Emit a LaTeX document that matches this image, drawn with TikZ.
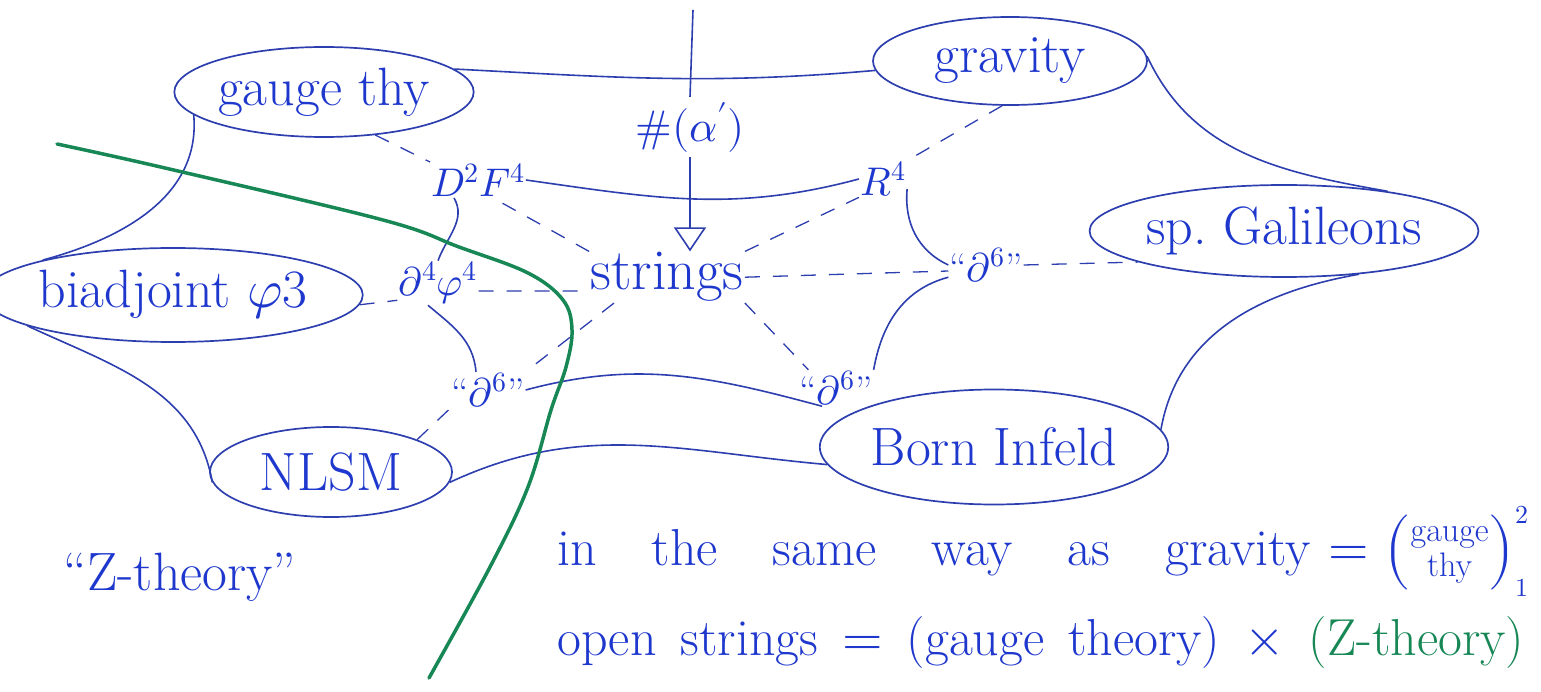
\documentclass[tikz,border=0pt]{standalone}
\usepackage{unicode-math}
\usetikzlibrary{shapes.geometric,arrows.meta}

\definecolor{ink}{RGB}{30,55,205}
\definecolor{pen}{RGB}{45,62,175}
\definecolor{marker}{RGB}{22,135,85}

\tikzset{
  theory/.style={ellipse,draw=pen,line width=1.7pt,text=ink,inner sep=0pt,
    font=\fontsize{54}{58}\selectfont},
  term/.style={text=ink,inner sep=1pt,font=\fontsize{40}{44}\selectfont},
  link/.style={pen,line width=1.6pt},
  dashlink/.style={pen,line width=1.3pt,dash pattern=on 15pt off 13pt},
  zline/.style={marker,line width=3.5pt,line cap=round},
  note/.style={text=ink,inner sep=0pt,anchor=base west,
    font=\fontsize{52}{56}\selectfont},
}

\begin{document}
\begin{tikzpicture}[x=1pt,y=1pt]
\useasboundingbox (0,0) rectangle (1541,-692);
% theories
\node[theory,minimum width=290pt,minimum height=90pt] (gauge) at (324,-92) {gauge thy};
\node[theory,minimum width=274pt,minimum height=88pt] (gravity) at (1010,-61) {gravity};
\node[theory,minimum width=327pt,minimum height=94pt] (biadj) at (173,-295) {biadjoint $\varphi$3};
\node[theory,minimum width=347pt,minimum height=92pt] (galileon) at (1284,-231) {sp.\ Galileons};
\node[theory,minimum width=242pt,minimum height=90pt] (nlsm) at (331,-472) {NLSM};
\node[theory,minimum width=345pt,minimum height=115pt] (born) at (994,-447) {Born Infeld};
% corrections
\node[term] (dfour) at (478,-180) {$D^2F^4$};
\node[term] (rfour) at (883,-179) {$R^4$};
\node[term] (dphi) at (438,-283) {$\partial^4\varphi^4$};
\node[term] (dsixl) at (488,-390) {``$\partial^6$''};
\node[term] (dsixr) at (986,-265) {``$\partial^6$''};
\node[term] (dsixb) at (836,-388) {``$\partial^6$''};
\node[term,anchor=base,font=\fontsize{58}{62}\selectfont] (strings) at (667,-290) {strings};
\node[term,inner sep=5pt,font=\fontsize{44}{48}\selectfont] (alpha) at (690,-127) {$\#(\alpha')$};
\coordinate (top) at (693,-10);
% alpha' arrow
\draw[link] (top) -- (alpha.north);
\draw[link,-{Triangle[open,length=24pt,width=32pt,line width=1.6pt]}] (alpha.south) -- (alpha.south |- strings.north);
% outer ring
\draw[link] (gauge.10) to[out=-3,in=185] (gravity.184);
\draw[link] (gravity.2) to[out=-65,in=170] (galileon.21);
\draw[link] (galileon.-30) to[out=190,in=80] (born.6);
\draw[link] (born.186) to[out=175,in=25] (nlsm.-5);
\draw[link] (nlsm.185) to[out=100,in=-25] (biadj.192);
\draw[link] (biadj.165) to[out=15,in=-85] (gauge.190);
% inner ring
\draw[link] (dfour.east) to[out=-8,in=195] (rfour.west);
\draw[link] ([xshift=-24pt]dfour.south) to[out=-60,in=70] (dphi.north);
\draw[link] ([xshift=-10pt]dphi.south) to[out=-40,in=95] ([xshift=-12pt]dsixl.north);
\draw[link] (dsixl.east) to[out=15,in=165] ([xshift=-14pt]dsixb.south);
\draw[link] (dsixb.north east) to[out=80,in=195] ([yshift=6pt]dsixr.south west);
\draw[link] ([yshift=-10pt]rfour.east) to[out=-95,in=155] (dsixr.west);
% dashed
\draw[dashlink] (gauge.-40) -- (dfour.north west);
\draw[dashlink] (gravity.-100) -- (rfour.north east);
\draw[dashlink] (biadj.-3) -- ([yshift=5pt]dphi.south west);
\draw[dashlink] ([yshift=-8pt]dphi.east) -- (strings.190);
\draw[dashlink] (strings.north west) -- ([xshift=15pt]dfour.south);
\draw[dashlink] (strings.north east) -- (rfour.south west);
\draw[dashlink] (strings.east) -- ([yshift=-6pt]dsixr.west);
\draw[dashlink] (dsixr.east) -- (galileon.192);
\draw[dashlink] ([xshift=25pt]strings.south west) -- (dsixl.north east);
\draw[dashlink] (nlsm.north east) -- (dsixl.south west);
\draw[dashlink] (strings.south east) -- ([xshift=10pt]dsixb.north west);
% Z-theory cut
\draw[zline] plot[smooth,tension=0.6] coordinates {(57,-144) (165,-168) (383,-220) (459,-247) (528,-273) (563,-300) (572,-330) (566,-367) (551,-410) (528,-487) (490,-567) (429,-678)};
% notes
\node[note,anchor=base,font=\fontsize{54}{58}\selectfont] (ztheory) at (180,-590) {``Z-theory''};
\node[note] (sameway) at (557,-565) {\spaceskip=55pt in the same way as gravity\hspace{18pt}$=\left(\vcenter{\hbox{\fontsize{34}{36}\selectfont\begin{tabular}{@{}c@{}}gauge\\[-1pt]thy\end{tabular}}}\right)^{\scriptscriptstyle 2}_{\scriptscriptstyle 1}$};
\node[note] (openstr) at (557,-655) {\spaceskip=24pt open strings $=$ (gauge theory) $\times$ {\color{marker}(Z-theory)}};
\end{tikzpicture}
\end{document}
